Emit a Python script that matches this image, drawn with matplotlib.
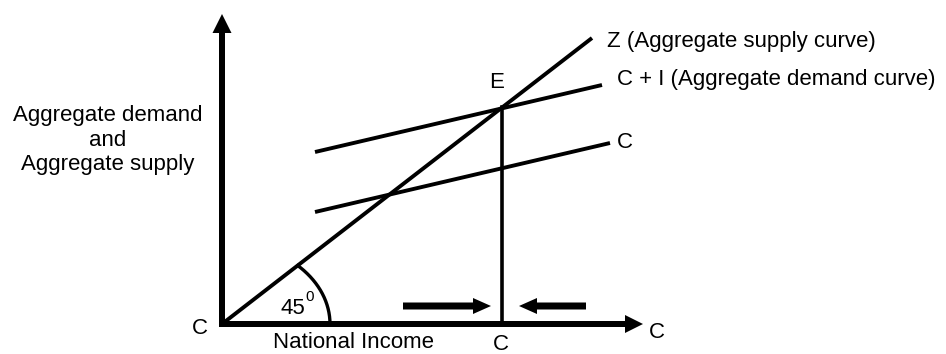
import matplotlib.pyplot as plt
import numpy as np

plt.rcParams['font.family'] = ['Liberation Sans', 'DejaVu Sans']

# diagram geometry in picture units (x right, y down)
origin = (222, 324)
y_axis_top = 14
x_axis_end = 643
supply_line = [(222, 324), (592, 38)]
demand_ci_line = [(315, 152), (602, 85)]
consumption_line = [(315, 212), (610, 143)]
equilibrium = (502, 107)
arrow_right = [(403, 306), (491, 306)]
arrow_left = [(586, 306), (519, 306)]
arc_radius_x = 108
arc_radius_y = 82

labels = [
    ("Z (Aggregate supply curve)", 607, 41, "left"),
    ("C + I (Aggregate demand curve)", 617, 80, "left"),
    ("C", 617, 142, "left"),
    ("E", 497, 83, "center"),
    ("C", 200, 329, "center"),
    ("C", 501, 345, "center"),
    ("C", 657, 332, "center"),
    ("National Income", 353, 343, "center"),
    ("Aggregate demand\nand\nAggregate supply", 108, 140, "center"),
]

fig = plt.figure(figsize=(9.46, 3.54), dpi=100)
ax = fig.add_axes([0, 0, 1, 1])
ax.set_xlim(0, 946)
ax.set_ylim(354, 0)
ax.axis("off")

# axes with arrow heads (data units are pixels here)
ax.arrow(origin[0], origin[1] + 3, 0, y_axis_top - origin[1] - 3, width=6, head_width=19,
         head_length=19, length_includes_head=True, color="black", lw=0)
ax.arrow(origin[0] - 3, origin[1], x_axis_end - origin[0] + 3, 0, width=6, head_width=18,
         head_length=18, length_includes_head=True, color="black", lw=0)

for line in [supply_line, demand_ci_line, consumption_line]:
    xs, ys = zip(*line)
    ax.plot(xs, ys, color="black", lw=2.8, solid_capstyle="butt")

ax.plot([equilibrium[0], equilibrium[0]], [equilibrium[1], origin[1]], color="black", lw=2.6)

# 45 degree arc, from x-axis up to the supply line
slope = (supply_line[0][1] - supply_line[1][1]) / (supply_line[1][0] - supply_line[0][0])
t = np.linspace(0, np.pi / 2, 400)
ax_pts = origin[0] + arc_radius_x * np.cos(t)
ay_pts = origin[1] - arc_radius_y * np.sin(t)
keep = (origin[1] - ay_pts) <= slope * (ax_pts - origin[0])
ax.plot(ax_pts[keep], ay_pts[keep], color="black", lw=2.4)
ax.text(293, 309, "45", fontsize=16, ha="center", va="center")
ax.text(310, 297, "0", fontsize=11, ha="center", va="center")

for arr in [arrow_right, arrow_left]:
    ax.arrow(arr[0][0], arr[0][1], arr[1][0] - arr[0][0], 0, width=7, head_width=16,
             head_length=18, length_includes_head=True, color="black", lw=0)

for text, x, y, ha in labels:
    ax.text(x, y, text, fontsize=16, ha=ha, va="center", linespacing=1.2)

fig.savefig("out.png", dpi=100)
